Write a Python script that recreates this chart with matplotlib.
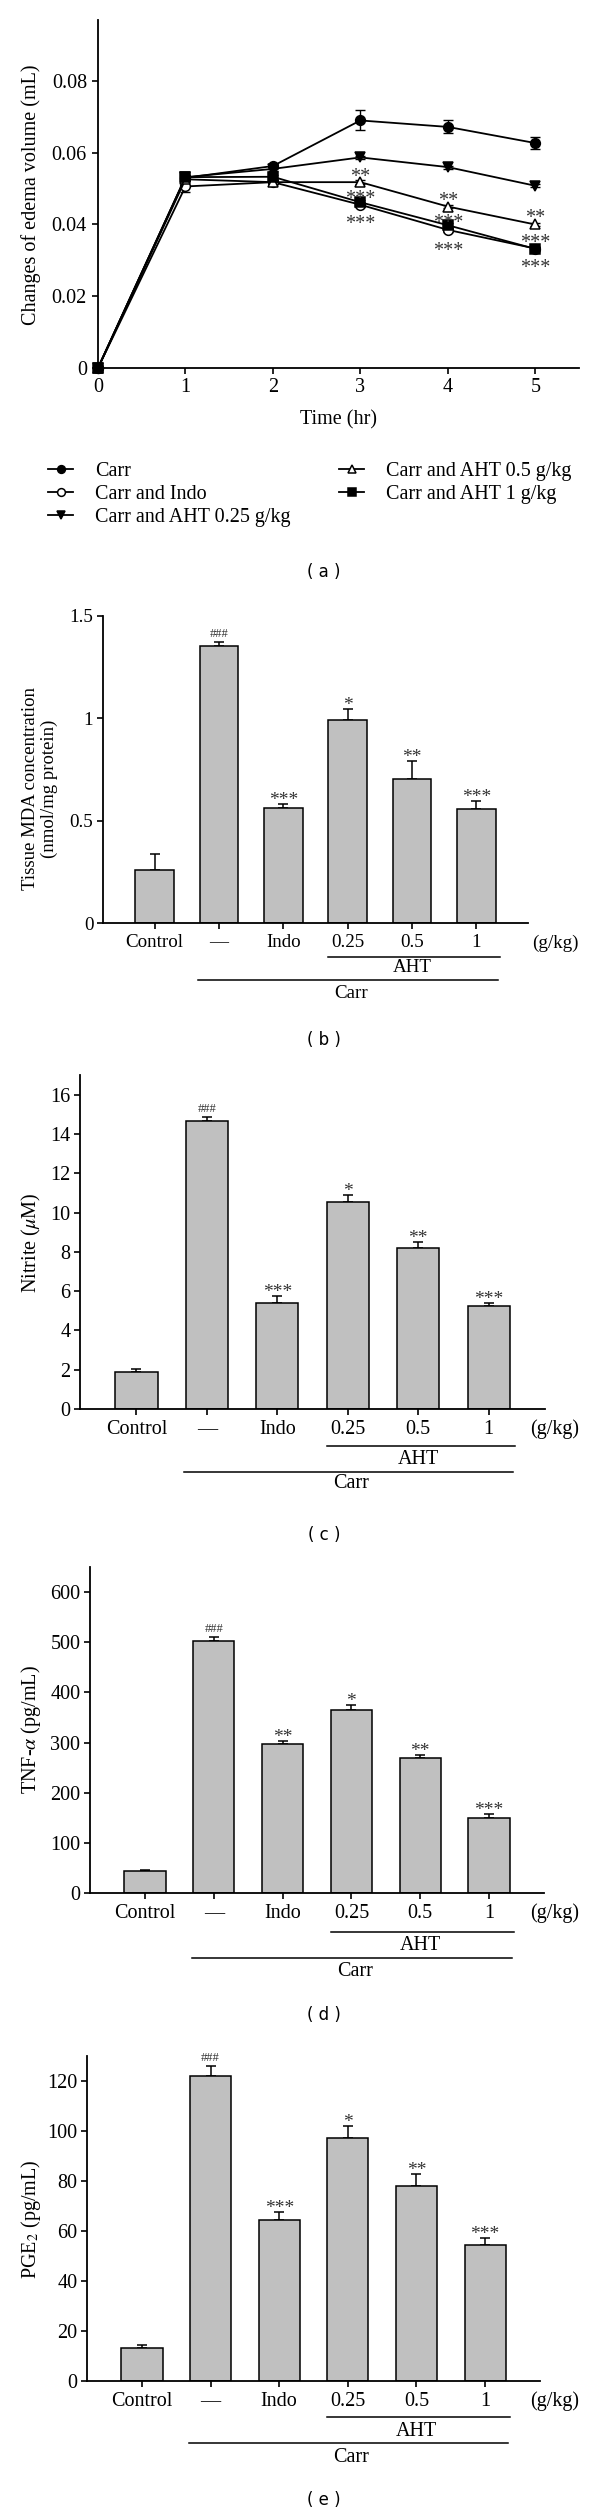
import numpy as np
import matplotlib
matplotlib.use("Agg")
import matplotlib.pyplot as plt
from matplotlib.transforms import blended_transform_factory

W, H = 600, 2517

plt.rcParams['font.family'] = ['Liberation Serif', 'DejaVu Serif']
plt.rcParams['mathtext.fontset'] = 'stix'

# ---------------- data: panel (a), paw edema time course
hours = [0, 1, 2, 3, 4, 5]
series_names = ['Carr', 'Carr and Indo', 'Carr and AHT 0.25 g/kg',
                'Carr and AHT 0.5 g/kg', 'Carr and AHT 1 g/kg']
carr = [0, 0.0530, 0.0563, 0.0690, 0.0672, 0.0627]
carr_err = [0, 0.0007, 0.0007, 0.0028, 0.0018, 0.0016]
indo = [0, 0.0506, 0.0518, 0.0455, 0.0385, 0.0333]
indo_err = [0, 0.0015, 0.0005, 0.0007, 0.0005, 0.0004]
aht025 = [0, 0.0532, 0.0555, 0.0587, 0.0560, 0.0508]
aht025_err = [0, 0.0006, 0.0005, 0.0005, 0.0004, 0.0004]
aht05 = [0, 0.0526, 0.0518, 0.0518, 0.0450, 0.0400]
aht05_err = [0, 0.0005, 0.0005, 0.0005, 0.0005, 0.0004]
aht1 = [0, 0.0532, 0.0533, 0.0462, 0.0398, 0.0332]
aht1_err = [0, 0.0006, 0.0005, 0.0006, 0.0005, 0.0004]

star_x = [3, 3, 3, 4, 4, 4, 5, 5, 5]
star_y = [0.0546, 0.0486, 0.0414, 0.0479, 0.0417, 0.0341, 0.0433, 0.0361, 0.0293]
star_txt = ['**', '***', '***', '**', '***', '***', '**', '***', '***']

# ---------------- data: bar panels (b)-(e)
groups = ['Control', '\u2014', 'Indo', '0.25', '0.5', '1']

mda = [0.258, 1.353, 0.561, 0.990, 0.704, 0.556]
mda_err = [0.081, 0.022, 0.018, 0.058, 0.087, 0.041]
mda_marks = ['', '###', '***', '*', '**', '***']

nitrite = [1.87, 14.66, 5.37, 10.56, 8.21, 5.24]
nitrite_err = [0.15, 0.20, 0.40, 0.31, 0.28, 0.15]
nitrite_marks = ['', '###', '***', '*', '**', '***']

tnf = [43, 503, 297, 364, 269, 149.5]
tnf_err = [2, 8, 6, 10, 5.5, 8]
tnf_marks = ['', '###', '**', '*', '**', '***']

pge2 = [13.1, 122, 64.4, 97.3, 78.1, 54.4]
pge2_err = [1.4, 3.9, 3.3, 4.6, 4.6, 2.9]
pge2_marks = ['', '###', '***', '*', '**', '***']


fig = plt.figure(figsize=(W / 100, H / 100), dpi=100)


def px_axes(left, top, right, bottom):
    return fig.add_axes([left / W, 1 - bottom / H, (right - left) / W, (bottom - top) / H])


def fig_text(x, y, s, **kw):
    fig.text(x / W, 1 - y / H, s, **kw)


def style_axes(ax, lw=1.3):
    for side in ['top', 'right']:
        ax.spines[side].set_visible(False)
    for side in ['left', 'bottom']:
        ax.spines[side].set_linewidth(lw)


# ================= panel (a)
ax = px_axes(98, 20, 579, 368)
style_axes(ax)
specs = [
    (carr, carr_err, 'o', 'black'),
    (indo, indo_err, 'o', 'white'),
    (aht025, aht025_err, 'v', 'black'),
    (aht05, aht05_err, '^', 'white'),
    (aht1, aht1_err, 's', 'black'),
]
handles = []
for (vals, errs, mk, face), name in zip(specs, series_names):
    ax.errorbar(hours, vals, yerr=errs, fmt='none', ecolor='black',
                elinewidth=1.0, capsize=3.5, capthick=1.0, clip_on=False, zorder=2)
    ln, = ax.plot(hours, vals, color='black', lw=1.3, marker=mk, ms=7,
                  mfc=face, mec='black', mew=1.1, clip_on=False, zorder=3, label=name)
    handles.append(ln)

for x, y, t in zip(star_x, star_y, star_txt):
    ax.annotate(t, (x, y), xytext=(0, -10), textcoords='offset pixels',
                ha='center', va='baseline', fontsize=14.5, color='#333333')

ax.set_xlim(0, 5.5)
ax.set_ylim(0, 0.097)
ax.set_xticks(hours)
ax.set_yticks([0, 0.02, 0.04, 0.06, 0.08])
ax.set_yticklabels(['0', '0.02', '0.04', '0.06', '0.08'])
ax.tick_params(direction='out', length=4, width=1.2, labelsize=14.5)
ax.tick_params(axis='x', pad=3)
ax.tick_params(axis='y', pad=4)
fig_text(31, 195, 'Changes of edema volume (mL)', rotation=90, ha='center', va='center', fontsize=14.5)
fig_text(338, 420, 'Time (hr)', ha='center', va='center', fontsize=14.5)

leg_kw = dict(loc='upper left', frameon=False, fontsize=14.5, handlelength=1.25,
              handletextpad=1.1, labelspacing=0.2, borderpad=0, borderaxespad=0,
              markerscale=0.8)
fig.legend(handles[:3], series_names[:3], bbox_to_anchor=(48 / W, 1 - 462 / H), **leg_kw)
fig.legend(handles[3:], series_names[3:], bbox_to_anchor=(339 / W, 1 - 462 / H), **leg_kw)
fig_text(324, 572, '( a )', ha='center', va='center', fontsize=12, family='DejaVu Sans')


# ================= bar panels
def bar_panel(box, vals, errs, marks, ylim, yticks, yticklabels, ylabel, ylabel_xy,
              caption, caption_y, offs, fs=14.5, yfs=14.5):
    ax = px_axes(*box)
    style_axes(ax)
    hpx = box[3] - box[1]
    xs = np.arange(len(groups))
    ax.bar(xs, vals, width=0.6, color='#c0c0c0', edgecolor='black', linewidth=1.1, zorder=2)
    ax.errorbar(xs, vals, yerr=[np.zeros(len(vals)), errs], fmt='none', ecolor='black',
                elinewidth=1.1, capsize=3.5, capthick=1.1, zorder=1)
    for x, v, e, m in zip(xs, vals, errs, marks):
        if not m:
            continue
        if m.startswith('#'):
            ax.annotate(m, (x, v + e), xytext=(0, 5), textcoords='offset pixels',
                        ha='center', va='baseline', fontsize=9, color='#333333')
        else:
            ax.annotate(m, (x, v + e), xytext=(0, -1), textcoords='offset pixels',
                        ha='center', va='baseline', fontsize=14, color='#333333')
    ax.set_xlim(-0.8, 5.8)
    ax.set_ylim(*ylim)
    ax.set_yticks(yticks)
    ax.set_yticklabels(yticklabels)
    ax.set_xticks(xs)
    ax.set_xticklabels(groups)
    ax.tick_params(direction='out', length=4, width=1.2, labelsize=fs)
    ax.tick_params(axis='x', pad=4)
    ax.tick_params(axis='y', pad=3)

    fig_text(555, box[3] + 20, '(g/kg)', ha='center', va='center', fontsize=fs)
    tr = blended_transform_factory(ax.transData, ax.transAxes)
    ax.plot([2.7, 5.37], [-offs[0] / hpx] * 2, color='black', lw=1.1, transform=tr, clip_on=False)
    ax.annotate('AHT', (4.0, 0), xycoords=('data', 'axes fraction'),
                xytext=(0, -offs[1]), textcoords='offset pixels', ha='center', va='center',
                fontsize=fs, annotation_clip=False)
    ax.plot([0.68, 5.34], [-offs[2] / hpx] * 2, color='black', lw=1.1, transform=tr, clip_on=False)
    ax.annotate('Carr', (3.05, 0), xycoords=('data', 'axes fraction'),
                xytext=(0, -offs[3]), textcoords='offset pixels', ha='center', va='center',
                fontsize=fs, annotation_clip=False)

    fig_text(ylabel_xy[0], ylabel_xy[1], ylabel, rotation=90, ha='center', va='center',
             fontsize=yfs, multialignment='center', linespacing=1.15)
    fig_text(324, caption_y, caption, ha='center', va='center', fontsize=12, family='DejaVu Sans')
    return ax


bar_panel((103, 616, 528, 923), mda, mda_err, mda_marks, (0, 1.5),
          [0, 0.5, 1, 1.5], ['0', '0.5', '1', '1.5'],
          'Tissue MDA concentration\n(nmol/mg protein)', (40, 789),
          '( b )', 1040, (34, 45, 57, 70), fs=13.7, yfs=13.5)

bar_panel((80, 1075, 545, 1409), nitrite, nitrite_err, nitrite_marks, (0, 17),
          list(range(0, 17, 2)), [str(v) for v in range(0, 17, 2)],
          r'Nitrite ($\mu$M)', (31, 1243),
          '( c )', 1535, (37, 50, 63, 75))

bar_panel((90, 1567, 544, 1893), tnf, tnf_err, tnf_marks, (0, 650),
          list(range(0, 601, 100)), [str(v) for v in range(0, 601, 100)],
          r'TNF-$\alpha$ (pg/mL)', (31, 1730),
          '( d )', 2015, (39, 53, 65, 79))

bar_panel((87, 2056, 540, 2381), pge2, pge2_err, pge2_marks, (0, 130),
          list(range(0, 121, 20)), [str(v) for v in range(0, 121, 20)],
          r'PGE$_2$ (pg/mL)', (31, 2219),
          '( e )', 2500, (36, 50, 62, 76))

fig.savefig('out.png', dpi=100)
